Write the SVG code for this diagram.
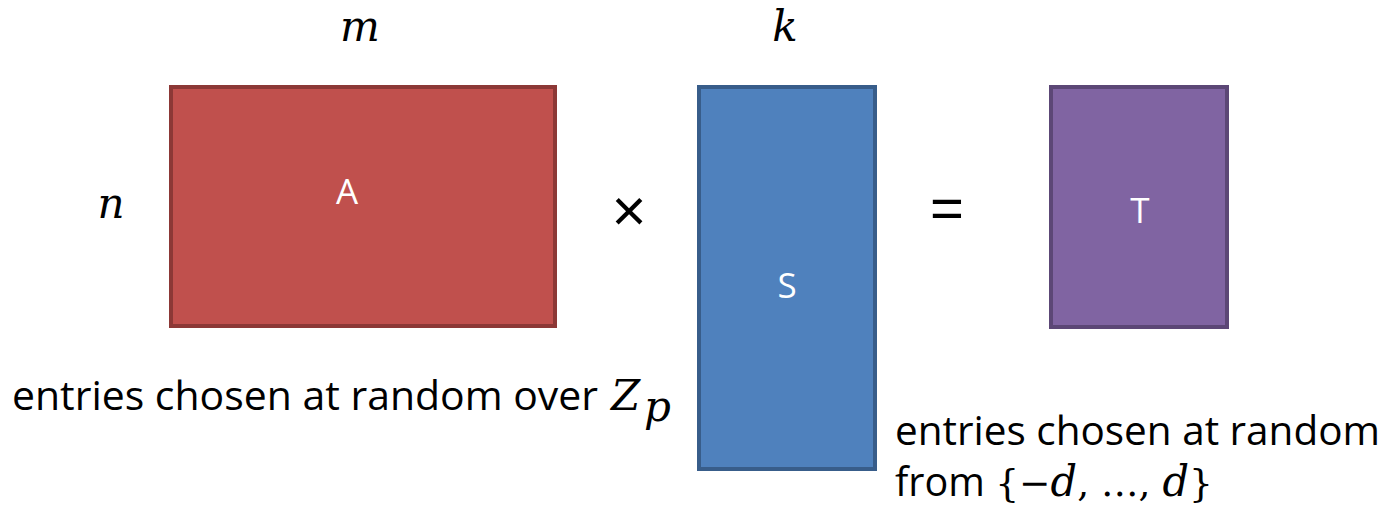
<svg xmlns="http://www.w3.org/2000/svg" width="1399" height="508" viewBox="0 0 1399 508">
<style>
.t{font-family:"Open Sans","Liberation Sans",sans-serif;font-size:40px;fill:#000}
.w{font-family:"Open Sans","Liberation Sans",sans-serif;font-size:35px;fill:#fff;text-anchor:middle}
.m{font-family:"DejaVu Serif","Liberation Serif",serif;font-style:italic;font-size:42px;fill:#000}
.r{font-family:"DejaVu Serif","Liberation Serif",serif;font-size:38px;fill:#000}
.o{font-family:"Liberation Sans",sans-serif;fill:#000;text-anchor:middle}
</style>
<rect width="1399" height="508" fill="#fff"/>
<g id="A">
<rect x="171" y="87" width="384" height="239" fill="#C0504D" stroke="#8C3836" stroke-width="4"/>
<text class="w" x="347" y="204">A</text>
</g>
<g id="S">
<rect x="699" y="87" width="176" height="382" fill="#4F81BD" stroke="#385D8A" stroke-width="4"/>
<text class="w" x="787" y="298">S</text>
</g>
<g id="T">
<rect x="1051" y="87" width="176" height="240" fill="#8064A2" stroke="#5C4776" stroke-width="4"/>
<text class="w" x="1140" y="223">T</text>
</g>
<g id="labels">
<text class="m" x="360" y="41" text-anchor="middle" font-size="46">m</text>
<text class="m" x="785" y="41" text-anchor="middle">k</text>
<text class="m" x="111" y="218" text-anchor="middle" font-size="46">n</text>
<text class="o" x="629" y="231" font-size="60">×</text>
<text class="o" x="947" y="228" font-size="58">=</text>
<text class="t" x="12" y="410" textLength="586" lengthAdjust="spacingAndGlyphs">entries chosen at random over</text>
<text class="m" x="611" y="410" font-size="42">Z</text><text class="m" x="644" y="421" font-size="32">p</text>
<text class="t" x="895" y="445" font-size="38" textLength="485" lengthAdjust="spacingAndGlyphs">entries chosen at random</text>
<text class="t" x="895" y="496" font-size="37" textLength="318" lengthAdjust="spacingAndGlyphs">from <tspan class="r" font-size="37">{−</tspan><tspan class="m" font-size="37">d</tspan><tspan class="r" font-size="37">, …, </tspan><tspan class="m" font-size="37">d</tspan><tspan class="r" font-size="37">}</tspan></text>
</g>
</svg>
